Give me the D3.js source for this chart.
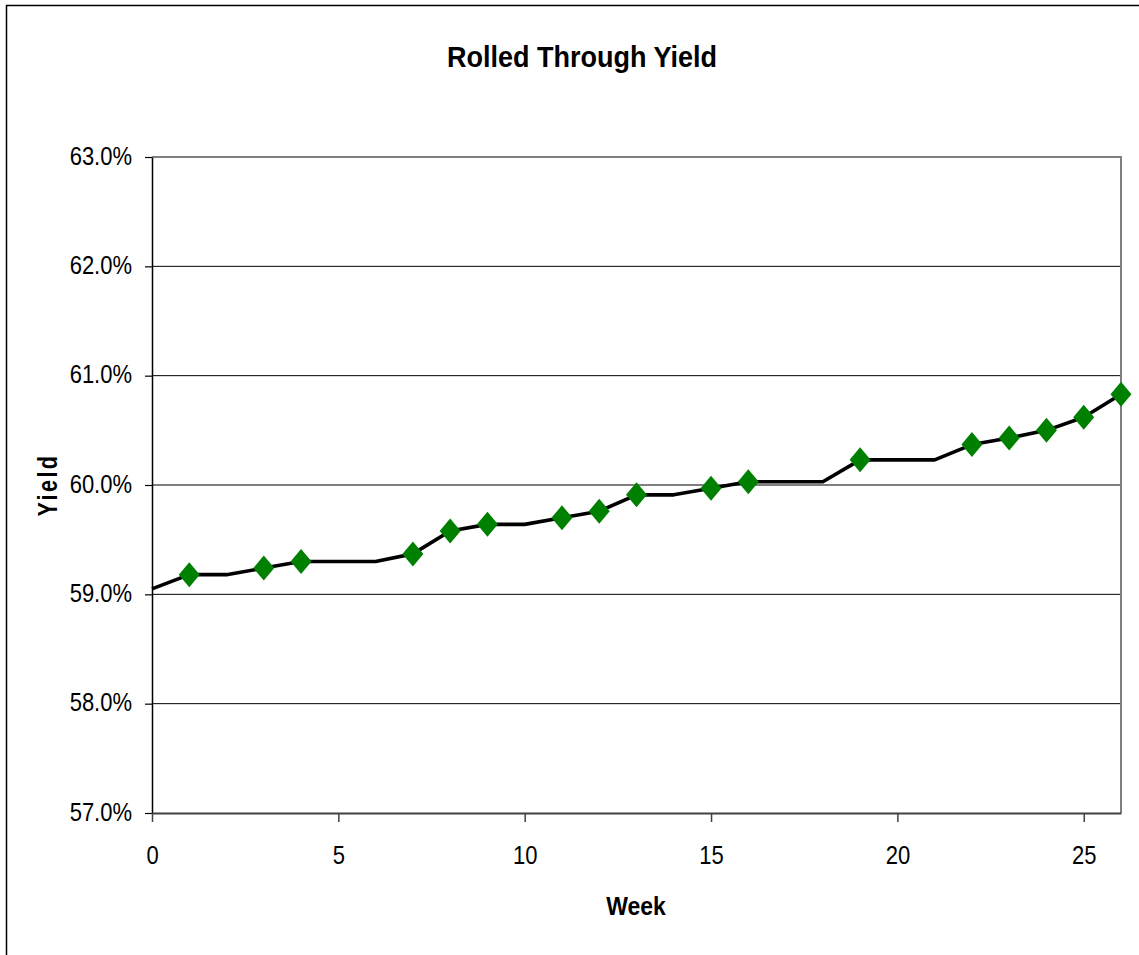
<!DOCTYPE html>
<html>
<head>
<meta charset="utf-8">
<script src="https://cdn.jsdelivr.net/npm/d3@7"></script>
<style>
  html, body { margin: 0; padding: 0; background: #fff; }
  svg { display: block; }
  text { font-family: "Liberation Sans", Arial, sans-serif; fill: #000; }
</style>
</head>
<body>
<svg id="chart" width="1139" height="955"></svg>
<script>
// ---- data ----
const weeks = [0,1,2,3,4,5,6,7,8,9,10,11,12,13,14,15,16,17,18,19,20,21,22,23,24,25,26];
const yieldValues = [59.05,59.18,59.18,59.24,59.30,59.30,59.30,59.37,59.58,59.64,59.64,59.70,59.76,59.91,59.91,59.97,60.03,60.03,60.03,60.23,60.23,60.23,60.37,60.43,60.50,60.62,60.83];
const markerWeeks = [1,3,4,7,8,9,11,12,13,15,16,19,22,23,24,25,26];
const yTicks = [57,58,59,60,61,62,63];
const xTicks = [0,5,10,15,20,25];
const title = "Rolled Through Yield";
const xTitle = "Week";
const yTitle = "Yield";

(function () {
const svg = d3.select("#chart");

// outer frame
svg.append("rect").attr("x", 6.5).attr("y", 5.5).attr("width", 1200).attr("height", 1000)
  .attr("fill", "#fff").attr("stroke", "#000").attr("stroke-width", 1.5);

const pLeft = 152, pRight = 1121, pTop = 157, pBottom = 813;
const x = d3.scaleLinear().domain([0, 26]).range([pLeft, pRight]);
const y = d3.scaleLinear().domain([57, 63]).range([pBottom, pTop]);

// gridlines
svg.append("g").selectAll("line").data(yTicks.filter(d => d !== 57)).join("line")
  .attr("x1", pLeft).attr("x2", pRight)
  .attr("y1", d => y(d)).attr("y2", d => y(d))
  .attr("stroke", "#000").attr("stroke-width", 1);

// plot border top/right
svg.append("path")
  .attr("d", `M${pLeft},${pTop}H${pRight}V${pBottom}`)
  .attr("fill", "none").attr("stroke", "#808080").attr("stroke-width", 2);

// y axis
const yAxis = svg.append("g").attr("transform", `translate(${pLeft},0)`)
  .call(d3.axisLeft(y).tickValues(yTicks).tickSize(7).tickSizeOuter(0).tickFormat(d => d.toFixed(1) + "%"));
yAxis.select(".domain").attr("stroke", "#000").attr("stroke-width", 1.5);
yAxis.selectAll(".tick line").attr("stroke", "#000").attr("stroke-width", 1.2);
yAxis.selectAll(".tick text").remove();
yAxis.selectAll(".tick").append("text")
  .attr("transform", "translate(-20,7) scale(0.88,1)")
  .attr("text-anchor", "end")
  .style("font-size", "25px")
  .text(d => d.toFixed(1) + "%");

// x axis
const xAxis = svg.append("g").attr("transform", `translate(0,${pBottom})`)
  .call(d3.axisBottom(x).tickValues(xTicks).tickSize(9).tickSizeOuter(0));
xAxis.select(".domain").attr("stroke", "#404040").attr("stroke-width", 2);
xAxis.selectAll(".tick line").attr("stroke", "#404040").attr("stroke-width", 1.5);
xAxis.selectAll(".tick text").remove();
xAxis.selectAll(".tick").append("text")
  .attr("transform", "translate(0,51) scale(0.88,1)")
  .attr("text-anchor", "middle")
  .style("font-size", "25px")
  .text(d => d);

// line
const line = d3.line().x((d, i) => x(weeks[i])).y(d => y(d));
svg.append("path").datum(yieldValues)
  .attr("d", line)
  .attr("fill", "none").attr("stroke", "#000").attr("stroke-width", 3.6)
  .attr("stroke-linejoin", "round");

// markers
const hw = 10.5, hh = 12.5;
svg.append("g").selectAll("path").data(markerWeeks).join("path")
  .attr("transform", d => `translate(${x(d)},${y(yieldValues[weeks.indexOf(d)])})`)
  .attr("d", `M0,${-hh}L${hw},0L0,${hh}L${-hw},0Z`)
  .attr("fill", "#008000");

// titles
svg.append("text")
  .attr("transform", "translate(582,67) scale(0.9,1)")
  .attr("text-anchor", "middle")
  .style("font-size", "30px").style("font-weight", "bold")
  .text(title);

svg.append("text")
  .attr("transform", "translate(636,915) scale(0.92,1)")
  .attr("text-anchor", "middle")
  .style("font-size", "25px").style("font-weight", "bold")
  .text(xTitle);

svg.append("text")
  .attr("transform", "translate(57,485) rotate(-90) scale(0.8,1)")
  .attr("text-anchor", "middle")
  .style("font-size", "27px").style("font-weight", "bold")
  .style("letter-spacing", "3px")
  .text(yTitle);
})();
</script>
</body>
</html>
